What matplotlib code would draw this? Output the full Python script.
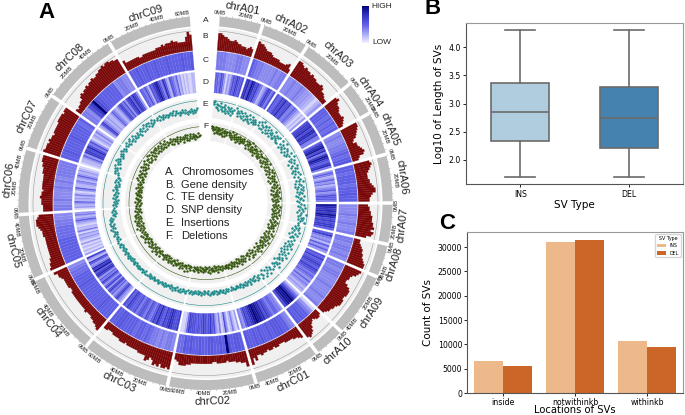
import numpy as np
import matplotlib
matplotlib.use("Agg")
import matplotlib.pyplot as plt
from matplotlib.colors import LinearSegmentedColormap
from matplotlib.cm import ScalarMappable

chroms = ["chrA01", "chrA02", "chrA03", "chrA04", "chrA05", "chrA06", "chrA07", "chrA08", "chrA09", "chrA10",
          "chrC01", "chrC02", "chrC03", "chrC04", "chrC05", "chrC06", "chrC07", "chrC08", "chrC09"]
lengths = [33, 36, 42, 25, 32, 36, 30, 24, 49, 22.5, 51, 67.5, 69, 64, 50, 50, 43, 59, 65.6]

gene_density = [
    [9, 9, 8, 7, 7, 6, 5, 5, 5, 6, 5, 4, 4, 3, 3, 3, 2, 3, 4, 3],
    [9, 8, 8, 7, 6, 5, 5, 5, 4, 3, 3, 3, 3, 2, 2, 2, 2, 3, 4, 1],
    [9, 9, 8, 7, 8, 7, 7, 6, 7, 6, 6, 5, 5, 5, 6, 5, 3, 3, 2, 1, 1],
    [7, 8, 6, 5, 5, 4, 3, 3, 3, 4, 3, 2, 1],
    [9, 9, 8, 7, 6, 5, 3, 2, 4, 4, 5, 6, 7, 6, 3, 2],
    [8, 9, 8, 7, 6, 5, 5, 5, 6, 6, 7, 8, 9, 9, 7, 6, 5, 5],
    [4, 5, 5, 6, 6, 7, 7, 7, 8, 8, 9, 7, 9, 8, 5],
    [2, 2, 3, 4, 5, 5, 6, 6, 7, 8, 9, 9],
    [9, 8, 7, 5, 4, 4, 3, 3, 5, 7, 8, 8, 8, 7, 7, 8, 8, 8, 7, 6, 6, 5, 5, 4, 3],
    [2, 3, 3, 2, 1, 2, 3, 5, 7, 8, 9, 8],
    [6, 5, 4, 4, 3, 3, 3, 3, 2, 2, 2, 3, 3, 2, 3, 3, 2, 3, 3, 4, 3, 3, 6, 4, 8],
    [8, 5, 5, 4, 4, 3, 3, 3, 2, 3, 3, 3, 3, 2, 2, 3, 3, 3, 3, 3, 3, 3, 3, 3, 4, 4, 5, 5, 5, 3, 2],
    [9, 8, 9, 9, 7, 9, 8, 9, 6, 5, 7, 8, 5, 5, 5, 5, 4, 4, 4, 4, 4, 4, 3, 4, 4, 4, 3, 3, 3, 3, 2, 2, 2, 3, 3],
    [7, 6, 5, 5, 4, 4, 3, 3, 3, 4, 3, 3, 3, 3, 3, 3, 3, 3, 3, 3, 2, 2, 3, 3, 3, 3, 3, 4, 5, 5, 7],
    [8, 7, 7, 6, 6, 5, 5, 5, 5, 5, 5, 5, 5, 5, 5, 6, 6, 6, 7, 8, 9, 9, 9, 8, 7],
    [4, 4, 4, 5, 5, 5, 6, 5, 5, 4, 5, 5, 5, 5, 5, 5, 5, 6, 6, 6, 7, 7, 8, 8, 8],
    [9, 8, 8, 8, 7, 8, 7, 7, 6, 7, 7, 7, 7, 7, 8, 8, 8, 8, 7, 8, 8],
    [2, 1, 2, 2, 3, 3, 5, 6, 5, 6, 6, 7, 6, 7, 7, 8, 7, 7, 8, 8, 9, 9, 10, 9, 10, 10, 9, 9, 8, 8],
    [5, 3, 3, 3, 3, 3, 3, 3, 2, 2, 3, 3, 3, 3, 3, 3, 3, 4, 4, 4, 5, 4, 5, 5, 5, 6, 5, 5, 4, 4, 4, 4, 7, 10, 8],
]

te_density = [
    [4, 4, 4, 3.5, 3.5, 3.5, 4, 4, 3.5, 3.5],
    [5, 4.5, 4, 4, 3.5, 3.5, 3.5, 3.5, 4, 3.5, 4, 4],
    [3.5, 3.5, 4, 3.5, 3.5, 4, 3.5, 3, 3, 2.5, 2, 1, 2, 3],
    [5, 5, 5, 4.5, 5, 4.5, 5, 4.5, 5],
    [3.5, 4, 3.5, 3.5, 4, 4, 4.5, 5, 4.5, 5, 5.5],
    [5, 5, 4.5, 5, 5, 5, 4.5, 5, 5, 5.5, 5, 5],
    [3.5, 3.5, 3.5, 4, 3.5, 3.5, 4, 3.5, 3.5, 4],
    [4, 4, 3.5, 4, 4, 3.5, 4, 3.5],
    [4, 4, 3.5, 4, 4, 3.5, 3.5, 3.5, 4, 3.5, 3.5, 3.5, 4, 3.5, 3.5, 4],
    [1, 3, 4, 5, 5, 5.5, 5, 5.5],
    [3.5, 4, 5, 5, 5.5, 5.5, 5.5, 5, 5.5, 5, 5, 5.5, 5, 5.5, 5, 5, 5.5],
    [5, 5.5, 5.5, 5, 5.5, 10, 5, 5.5, 5, 5, 5.5, 5.5, 5, 5, 5.5, 5, 5, 5.5, 5, 5.5, 4.5, 4.5],
    [3.5, 4, 4, 3.5, 4, 3.5, 4, 4, 4.5, 5, 4.5, 5, 5, 4.5, 5, 5, 5, 5, 5.5, 5.5, 5, 5],
    [5, 5, 5, 5, 5.5, 5, 5, 5, 5, 5, 5, 5, 5, 5.5, 5, 5, 5, 4.5, 4.5, 4, 3.5],
    [5, 5, 5, 5, 5, 5, 5, 5, 4.5, 4.5, 4.5, 4.5, 4, 4, 3.5, 3.5],
    [4, 4, 3.5, 4, 3.5, 3.5, 3.5, 4, 3.5, 4, 3.5, 4, 4, 4, 4, 4],
    [5, 5, 5.5, 5, 5, 5, 5, 5.5, 5, 5, 5, 5, 4.5, 5],
    [4, 4, 3.5, 6, 7, 10, 6, 5.5, 5, 5, 5, 5, 5, 5, 3.5, 4, 4, 3.5, 3.5],
    [5, 5, 5.5, 5, 5, 5.5, 5, 5, 5.5, 5, 5, 5, 5.5, 5, 5, 5, 5, 5.5, 5, 5, 5.5],
]

snp_density = [
    [5, 5, 4, 6, 5, 3, 1, 3, 2, 4, 6, 5, 7, 6, 5, 6],
    [7, 8, 6, 9, 8, 6, 7, 5, 4, 2, 3, 5, 7, 6, 4, 6],
    [6, 5, 5, 7, 6, 8, 6, 6, 7, 4, 4, 5, 4, 3, 2, 1, 2, 1, 3],
    [6, 7, 7, 8, 6, 8, 8, 6, 7, 4, 4],
    [5, 7, 8, 9, 6, 8, 4, 7, 9, 8, 6, 5, 7, 8, 4],
    [3, 5, 4, 2, 3, 5, 3, 4, 2, 3, 4, 5, 3, 4, 6, 5, 5, 4],
    [9, 8, 7, 8, 7, 9, 8, 6, 7, 6, 7, 7, 5],
    [5, 7, 4, 3, 4, 2, 5, 3, 5, 3],
    [6, 5, 7, 5, 6, 7, 6, 5, 7, 6, 5, 4, 5, 4, 3, 5, 3, 4, 3, 2, 3, 2],
    [2, 4, 6, 8, 10, 9, 9, 8, 6],
    [3, 4, 4, 5, 5, 4, 5, 6, 7, 6, 8, 8, 9, 9, 10, 9, 8, 7, 6, 7, 5, 3, 4],
    [3, 1, 2, 4, 2, 1, 3, 6, 2, 1, 4, 2, 3, 6, 5, 7, 6, 5, 6, 7, 6, 5, 6, 5, 6, 6, 6, 7, 5, 2, 1, 1],
    [7, 6, 6, 7, 8, 7, 6, 7, 5, 6, 8, 6, 7, 5, 4, 5, 6, 4, 5, 6, 5, 4, 6, 5, 5, 6, 7, 5, 6],
    [2, 3, 4, 7, 6, 4, 3, 5, 4, 7, 6, 3, 7, 5, 3, 5, 7, 4, 5, 3, 6, 8, 7, 5, 9, 7, 8, 4, 3, 5, 7, 2, 3, 7],
    [3, 1, 2, 1, 2, 1, 3, 1, 2, 3, 2, 3, 1, 4, 2, 2, 1, 2, 3, 5, 3, 2, 4, 3],
    [1, 3, 2, 3, 5, 2, 3, 2, 4, 2, 1, 3, 5, 2, 2, 3, 4, 2, 3, 5, 3, 2, 3, 2, 1],
    [1, 2, 2, 3, 5, 3, 7, 7, 6, 8, 6, 4, 6, 3, 1, 2, 3, 2, 4, 2],
    [2, 3, 6, 7, 4, 3, 2, 3, 2, 2, 3, 5, 4, 3, 2, 3, 5, 7, 6, 4, 6, 3, 6, 7, 8, 5, 8, 7, 6, 3],
    [5, 5, 4, 6, 4, 2, 6, 5, 7, 8, 9, 7, 5, 4, 8, 6, 3, 2, 6, 5, 4, 3, 5, 2, 3, 1, 2, 1, 2, 1, 1, 2, 2],
]

insertions = [
    [16, 14, 17, 12, 15, 11, 14, 9, 13, 16, 10, 12, 8, 13, 15, 9, 11, 7, 14, 10, 12, 8, 10, 13, 6, 11, 9, 12],
    [15, 10, 13, 8, 11, 14, 9, 12, 7, 10, 13, 6, 11, 8, 12, 9, 14, 7, 10, 6, 13, 8, 11, 9, 12, 7, 10, 8],
    [12, 9, 14, 7, 11, 15, 8, 10, 13, 6, 12, 9, 14, 7, 11, 8, 13, 10, 6, 12, 9, 15, 7, 11, 8, 13, 10, 9, 12, 7, 14, 8],
    [14, 10, 7, 12, 9, 15, 8, 11, 6, 13, 9, 12, 7, 10, 14, 8, 11],
    [15, 11, 8, 13, 10, 6, 12, 9, 14, 7, 11, 13, 8, 10, 6, 12, 9, 14, 7, 11],
    [13, 8, 11, 15, 7, 10, 12, 6, 9, 14, 8, 11, 13, 7, 10, 12, 9, 6, 14, 8, 11, 10, 13, 7, 9],
    [11, 14, 8, 10, 15, 12, 9, 13, 7, 11, 16, 10, 8, 14, 12, 9, 13, 11, 15, 10],
    [10, 7, 12, 9, 5, 11, 8, 13, 6, 10, 4, 12, 8, 9, 6, 11],
    [9, 6, 11, 8, 4, 10, 7, 12, 5, 9, 6, 3, 11, 8, 5, 10, 7, 12, 4, 9, 6, 11, 8, 5, 3, 10, 7, 9, 12, 6, 4, 8],
    [9, 5, 7, 3, 11, 6, 8, 4, 10, 2, 7, 5, 9],
    [4, 7, 5, 8, 3, 6, 4, 7, 5, 3, 6, 8, 4, 5, 7, 3, 6, 4, 5, 7, 3, 4, 6, 5, 4, 3, 5, 6, 4, 5, 3, 6],
    [4, 6, 3, 5, 7, 4, 6, 5, 3, 4, 6, 5, 7, 4, 3, 5, 6, 4, 5, 7, 3, 6, 5, 4, 6, 3, 5, 7, 4, 5, 6, 3, 5, 4, 6, 5, 7, 4, 5, 6, 4],
    [5, 7, 6, 4, 6, 8, 5, 7, 6, 4, 7, 5, 6, 8, 5, 7, 4, 6, 5, 7, 6, 8, 5, 6, 7, 5, 6, 8, 7, 5, 6, 7, 8, 6, 5, 7, 8, 6, 7, 5, 8],
    [8, 6, 7, 9, 7, 6, 8, 7, 9, 6, 8, 7, 6, 9, 8, 7, 8, 6, 9, 7, 8, 10, 7, 9, 8, 7, 10, 8, 9, 7, 10, 8, 9, 11, 8, 10, 9, 11],
    [10, 8, 11, 9, 10, 12, 9, 11, 8, 10, 12, 13, 9, 11, 10, 12, 9, 13, 11, 10, 12, 9, 11, 6, 8, 7, 5, 9, 6, 8],
    [7, 5, 8, 6, 4, 7, 5, 3, 6, 8, 5, 4, 7, 6, 3, 5, 8, 4, 6, 7, 5, 3, 6, 4, 8, 5, 7, 4, 6, 5],
    [7, 10, 8, 11, 9, 12, 10, 8, 13, 11, 9, 12, 14, 10, 13, 11, 9, 12, 10, 13, 11, 14, 12, 10, 13, 11],
    [13, 11, 14, 12, 10, 13, 15, 11, 9, 12, 14, 10, 12, 9, 11, 13, 10, 8, 12, 14, 11, 9, 13, 15, 10, 12, 14, 11, 13, 9, 12, 10, 14, 11, 13],
    [11, 13, 10, 14, 12, 9, 11, 13, 10, 12, 9, 11, 10, 12, 9, 11, 13, 8, 10, 12, 9, 7, 10, 8, 11, 9, 7, 10, 8, 6, 9, 7, 10, 8, 6, 9, 7, 8, 10],
]

deletions = [
    [15, 13, 11, 14, 12, 9, 13, 15, 10, 12, 14, 9, 11, 13, 8, 12, 10, 14, 9, 11, 7, 12, 10, 13, 8, 11, 9, 12],
    [13, 10, 12, 8, 11, 14, 9, 7, 12, 10, 13, 8, 11, 9, 6, 12, 10, 8, 13, 11, 9, 7, 12, 8, 10, 13, 9, 11],
    [12, 8, 10, 13, 6, 11, 9, 12, 7, 14, 10, 8, 11, 6, 13, 9, 11, 7, 10, 12, 8, 5, 11, 9, 13, 7, 10, 8, 12, 6, 9, 11],
    [11, 8, 12, 6, 9, 13, 7, 10, 12, 5, 9, 11, 7, 13, 8, 10, 6],
    [10, 7, 12, 9, 5, 11, 8, 13, 6, 10, 12, 7, 9, 4, 11, 8, 10, 6, 12, 9],
    [9, 12, 6, 10, 8, 13, 5, 11, 7, 9, 12, 4, 10, 8, 6, 11, 9, 7, 13, 5, 10, 8, 11, 6, 9],
    [8, 11, 6, 9, 13, 7, 10, 5, 12, 8, 6, 11, 9, 7, 12, 5, 10, 8, 11, 6],
    [7, 10, 5, 9, 12, 6, 8, 11, 4, 9, 7, 10, 5, 8, 6, 11],
    [8, 5, 10, 7, 12, 4, 9, 6, 11, 8, 5, 10, 3, 7, 9, 12, 6, 4, 8, 11, 5, 9, 7, 10, 3, 6, 8, 5, 11, 7, 4, 9],
    [7, 4, 9, 6, 2, 8, 5, 10, 3, 7, 5, 9, 4],
    [6, 3, 8, 5, 2, 7, 4, 6, 9, 3, 5, 7, 2, 6, 4, 8, 3, 5, 7, 4, 2, 6, 5, 8, 3, 4, 6, 7, 3, 5, 4, 6],
    [5, 3, 7, 4, 6, 2, 5, 8, 3, 6, 4, 2, 7, 5, 3, 6, 4, 8, 2, 5, 7, 3, 4, 6, 2, 5, 7, 4, 3, 6, 5, 2, 7, 4, 6, 3, 5, 4, 7, 3, 6],
    [4, 7, 3, 5, 8, 2, 6, 4, 9, 3, 5, 7, 4, 2, 6, 8, 3, 5, 4, 7, 6, 2, 5, 8, 4, 3, 7, 5, 6, 3, 8, 4, 6, 2, 7, 5, 3, 8, 6, 4, 5],
    [5, 8, 3, 6, 4, 9, 5, 7, 3, 8, 6, 4, 10, 5, 7, 3, 8, 6, 5, 9, 4, 7, 5, 8, 3, 10, 6, 4, 8, 7, 5, 9, 6, 4, 10, 7, 5, 8],
    [6, 9, 4, 7, 11, 5, 8, 6, 10, 4, 7, 9, 5, 8, 11, 6, 4, 9, 7, 5, 10, 8, 6, 3, 7, 5, 9, 4, 6, 8],
    [5, 8, 4, 7, 3, 6, 9, 5, 4, 7, 6, 8, 3, 5, 7, 4, 6, 8, 5, 3, 7, 6, 4, 9, 5, 7, 4, 6, 8, 5],
    [7, 4, 9, 6, 11, 5, 8, 7, 10, 4, 9, 6, 8, 11, 5, 9, 7, 12, 6, 10, 8, 5, 11, 9, 7, 12],
    [8, 11, 6, 10, 13, 7, 9, 12, 5, 10, 8, 13, 6, 11, 9, 12, 7, 10, 13, 8, 11, 6, 12, 9, 7, 10, 13, 8, 11, 6, 9, 12, 7, 10, 8],
    [9, 6, 11, 8, 5, 10, 7, 9, 6, 4, 8, 10, 5, 7, 9, 6, 3, 8, 5, 7, 9, 4, 6, 8, 3, 5, 7, 9, 4, 6, 8, 5, 3, 7, 6, 4, 8, 5, 6],
]

track_letters = ["A", "B", "C", "D", "E", "F"]
key_names = ["Chromosomes", "Gene density", "TE density", "SNP density", "Insertions", "Deletions"]

sv_types = ["INS", "DEL"]
whisker_lo = [1.7, 1.7]
q1 = [2.33, 2.22]
medians = [2.86, 2.75]
q3 = [3.36, 3.30]
whisker_hi = [4.3, 4.3]

locations = ["inside", "notwithinkb", "withinkb"]
ins_counts = [6600, 31000, 10600]
del_counts = [5450, 31400, 9400]

heat = LinearSegmentedColormap.from_list(
    "heat", [(0, "#f4f2ff"), (0.25, "#a6a6f5"), (0.5, "#5f5fe6"), (0.75, "#3434c4"), (1, "#00007c")])

W, H = 685, 415
cx, cy, rmax = 205.5, 203, 215
fig = plt.figure(figsize=(W / 100, H / 100), dpi=100)
plt.rcParams["font.family"] = ["Liberation Sans", "DejaVu Sans"]

ax = fig.add_axes([(cx - rmax) / W, (H - cy - rmax) / H, 2 * rmax / W, 2 * rmax / H], projection="polar")
ax.set_theta_zero_location("N")
ax.set_theta_direction(-1)
ax.set_axis_off()


def tang(text, deg, r, size):
    rot = 180 - deg if 90 < deg < 270 else -deg
    ax.text(np.radians(deg), r, text, rotation=rot, rotation_mode="anchor",
            ha="center", va="center", fontsize=size, color="#222222")


def arc_band(a0, a1, r0, r1, color):
    ax.bar(np.radians((a0 + a1) / 2), r1 - r0, np.radians(a1 - a0), bottom=r0, color=color, lw=0)


per_mb = 0.39
gap = 1.1
start = 4.4
for i, name in enumerate(chroms):
    a0 = start
    a1 = a0 + lengths[i] * per_mb
    start = a1 + gap

    # chromosome band, ticks and labels
    arc_band(a0, a1, 177, 187, "#bdbdbd")
    for mb in np.arange(0, lengths[i], 5):
        t = np.radians(a0 + mb * per_mb)
        ax.plot([t, t], [187, 188], color="#888888", lw=0.3)
    for mb in np.arange(0, lengths[i] - 3, 20):
        tang("%dMB" % mb, a0 + mb * per_mb, 191, 4.2)
    tang(name, (a0 + a1) / 2, 198.5, 8)

    # gene density
    arc_band(a0, a1, 153, 175.5, "#f0f0f0")
    thetas = np.linspace(a0, a1, 60)
    ax.plot(np.radians(thetas), np.full(60, 172.5), color="#999999", lw=0.4)
    vals = np.array(gene_density[i], dtype=float)
    w = (a1 - a0) / len(vals)
    ax.bar(np.radians(a0 + w * (np.arange(len(vals)) + 0.5)), 3 + vals * 1.6, np.radians(w),
           bottom=153, color="#7b0808", edgecolor="#7b0808", lw=0.2)

    # TE and SNP heat rings
    for vals, r0, r1 in [(te_density[i], 133.5, 152), (snp_density[i], 110.5, 131)]:
        w = (a1 - a0) / len(vals)
        cols = heat(np.array(vals) / 10)
        ax.bar(np.radians(a0 + w * (np.arange(len(vals)) + 0.5)), r1 - r0, np.radians(w),
               bottom=r0, color=cols, edgecolor=cols, lw=0.15)

    # insertions and deletions
    for vals, r0, r1, line, col in [(insertions[i], 85, 105, 102.5, "#1d8a8a"),
                                    (deletions[i], 62, 80.5, 76.5, "#35560f")]:
        arc_band(a0, a1, r0, r1, "#f0f0f0")
        ax.plot(np.radians(thetas), np.full(60, line), color=col, lw=0.4)
        th = np.linspace(a0 + 0.2, a1 - 0.2, len(vals))
        ax.scatter(np.radians(th), r0 + np.array(vals), s=3.2, color=col, lw=0, zorder=3)

# letters of the tracks, in the top gap
for letter, r in zip(track_letters, [182, 166, 143, 121, 99, 76]):
    ax.text(0, r, letter, fontsize=6, ha="center", va="center", color="#222222")

# the bars rescale the radial axis, so fix it once everything is drawn
ax.set_xlim(0, 2 * np.pi)
ax.set_ylim(0, rmax)

# key in the middle
for j, (letter, label) in enumerate(zip(track_letters, key_names)):
    fig.text(165 / W, 1 - (172 + j * 12.7) / H, letter + ".", fontsize=8, va="center", color="#222222")
    fig.text(181 / W, 1 - (172 + j * 12.7) / H, label, fontsize=8, va="center", color="#222222")

# colour scale
cax = fig.add_axes([362 / W, 1 - 43 / H, 7 / W, 37 / H])
cb = fig.colorbar(ScalarMappable(cmap=heat), cax=cax)
cb.set_ticks([])
cb.outline.set_visible(False)
fig.text(371 / W, 1 - 6 / H, "HIGH", fontsize=6, va="center", color="#222222")
fig.text(372 / W, 1 - 43 / H, "LOW", fontsize=6, va="center", color="#222222")

for letter, x, y in [("A", 38, 13), ("B", 425, 9), ("C", 439, 223)]:
    fig.text(x / W, 1 - y / H, letter, fontsize=16, fontweight="bold", va="center", color="black")

# box plot
plt.rcParams["font.family"] = ["DejaVu Sans"]
ax_b = fig.add_axes([466 / W, 1 - 184 / H, 217 / W, 161 / H])
stats = [dict(med=medians[k], q1=q1[k], q3=q3[k], whislo=whisker_lo[k], whishi=whisker_hi[k], fliers=[])
         for k in range(2)]
grey = "#6b6b6b"
parts = ax_b.bxp(stats, positions=[0, 1], widths=0.535, capwidths=0.275, patch_artist=True, showfliers=False,
                 boxprops=dict(edgecolor=grey, linewidth=1.2), medianprops=dict(color=grey, linewidth=1.2),
                 whiskerprops=dict(color=grey, linewidth=1.2), capprops=dict(color=grey, linewidth=1.2))
for patch, col in zip(parts["boxes"], ["#b0cde0", "#4682b0"]):
    patch.set_facecolor(col)
ax_b.set_xlim(-0.5, 1.5)
ax_b.set_ylim(1.574, 4.43)
ax_b.set_xticks([0, 1], sv_types)
ax_b.set_yticks([2.0, 2.5, 3.0, 3.5, 4.0])
ax_b.tick_params(labelsize=5.6, length=2, width=0.6, pad=2)
ax_b.set_xlabel("SV Type", fontsize=7.5, labelpad=1)
ax_b.set_ylabel("Log10 of Length of SVs", fontsize=7.5, labelpad=3)
for s in ax_b.spines.values():
    s.set_color("#999999")
    s.set_linewidth(0.8)
ax_b.spines["left"].set_color("#555555")
ax_b.spines["bottom"].set_color("#555555")

# count bars
ax_c = fig.add_axes([467 / W, 1 - 393 / H, 216 / W, 161 / H])
x = np.arange(3)
ax_c.bar(x - 0.2, ins_counts, 0.4, color="#eeb98a", label="INS")
ax_c.bar(x + 0.2, del_counts, 0.4, color="#cc6528", label="DEL")
ax_c.set_xlim(-0.5, 2.5)
ax_c.set_ylim(0, 33100)
ax_c.set_xticks(x, locations)
ax_c.set_yticks(np.arange(0, 30001, 5000))
ax_c.tick_params(labelsize=5.6, length=2, width=0.6, pad=1.5)
ax_c.set_xlabel("Locations of SVs", fontsize=7.2, labelpad=-1)
ax_c.set_ylabel("Count of SVs", fontsize=7.5, labelpad=3)
for s in ax_c.spines.values():
    s.set_color("#555555")
    s.set_linewidth(0.8)
ax_c.spines["top"].set_color("#999999")
ax_c.spines["right"].set_color("#999999")
ax_c.legend(title="SV Type", fontsize=3.4, title_fontsize=3.4, loc="upper right", borderaxespad=0.4)

fig.savefig("out.png", dpi=100)
